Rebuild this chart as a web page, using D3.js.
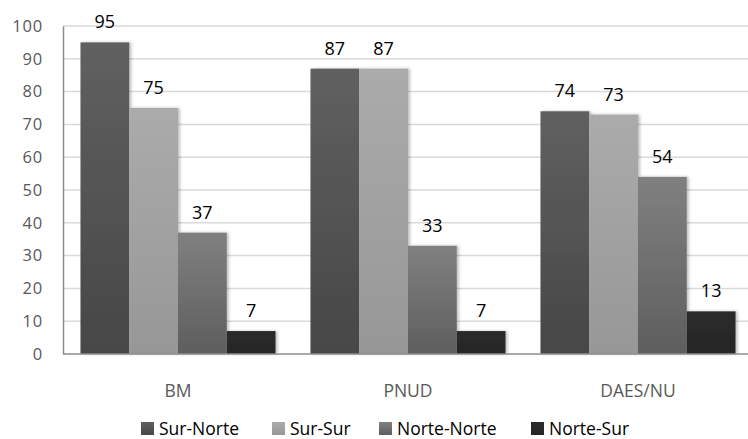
<!DOCTYPE html>
<html>
<head>
<meta charset="utf-8">
<script src="https://cdn.jsdelivr.net/npm/d3@7"></script>
<style>
  body { margin: 0; background: #fff; }
  svg text { font-family: 'Open Sans', sans-serif; }
</style>
</head>
<body>
<div id="chart"></div>
<script>
// Data
const categories = ['BM', 'PNUD', 'DAES/NU']
const seriesNames = ['Sur-Norte', 'Sur-Sur', 'Norte-Norte', 'Norte-Sur']
const surNorte = [95, 87, 74]
const surSur = [75, 87, 73]
const norteNorte = [37, 33, 54]
const norteSur = [7, 7, 13]
const yTicks = [0, 10, 20, 30, 40, 50, 60, 70, 80, 90, 100]

const seriesValues = [surNorte, surSur, norteNorte, norteSur]

// Colours (top, bottom of gradient)
const COLORS = [
  ['#606060', '#474747'],  // dark grey
  ['#ababab', '#979797'],  // light grey
  ['#808080', '#5e5e5e'],  // mid grey
  ['#2b2b2b', '#262626']   // near black
]

// Initialization
const width = 748
const height = 439
const margin = { left: 63, top: 26, bottom: 85 }
const plotRight = 753

const svg = d3.select('#chart').append('svg')
  .attr('width', width)
  .attr('height', height)

const defs = svg.append('defs')
COLORS.forEach((c, i) => {
  const g = defs.append('linearGradient')
    .attr('id', `grad${i}`)
    .attr('x1', 0).attr('y1', 0).attr('x2', 0).attr('y2', 1)
  g.append('stop').attr('offset', '0%').attr('stop-color', c[0])
  g.append('stop').attr('offset', '100%').attr('stop-color', c[1])
})
const shadow = defs.append('filter').attr('id', 'shadow')
  .attr('x', '-10%').attr('y', '-10%').attr('width', '130%').attr('height', '120%')
shadow.append('feDropShadow')
  .attr('dx', 2).attr('dy', 0).attr('stdDeviation', 1.5)
  .attr('flood-color', '#000').attr('flood-opacity', 0.25)

// Scales
const x0 = d3.scaleBand()
  .domain(categories)
  .range([margin.left, plotRight])
  .paddingInner(0.152)
  .paddingOuter(0.076)

const x1 = d3.scaleBand()
  .domain(seriesNames)
  .range([0, x0.bandwidth()])

const y = d3.scaleLinear()
  .domain([0, 100])
  .range([height - margin.bottom, margin.top])

// Gridlines
svg.append('g')
  .selectAll('line')
  .data(yTicks.slice(1))
  .enter()
  .append('line')
  .attr('x1', margin.left)
  .attr('x2', plotRight)
  .attr('y1', d => y(d))
  .attr('y2', d => y(d))
  .attr('stroke', '#d9d9d9')
  .attr('stroke-width', 1.5)

// Y axis
const yAxis = svg.append('g')
  .attr('transform', `translate(${margin.left},0)`)
  .call(d3.axisLeft(y).tickValues(yTicks).tickSize(0).tickPadding(20))
yAxis.attr('font-size', null).attr('font-family', null)
yAxis.select('.domain').attr('stroke', '#8c8c8c').attr('stroke-width', 1.5)
yAxis.selectAll('text')
  .attr('fill', '#595959')
  .style('font-size', '16.5px')
  .style('letter-spacing', '0.8px')

// Bars
const groups = svg.append('g')
  .selectAll('g')
  .data(categories)
  .enter()
  .append('g')
  .attr('transform', d => `translate(${x0(d)},0)`)

groups.selectAll('rect')
  .data((c, ci) => seriesNames.map((s, si) => ({ s, si, v: seriesValues[si][ci] })))
  .enter()
  .append('rect')
  .attr('x', d => x1(d.s))
  .attr('y', d => y(d.v))
  .attr('width', x1.bandwidth())
  .attr('height', d => y(0) - y(d.v))
  .attr('fill', d => `url(#grad${d.si})`)
  .attr('filter', 'url(#shadow)')

// Value labels
groups.selectAll('text')
  .data((c, ci) => seriesNames.map((s, si) => ({ s, si, v: seriesValues[si][ci] })))
  .enter()
  .append('text')
  .attr('x', d => x1(d.s) + x1.bandwidth() / 2)
  .attr('y', d => y(d.v) - 14)
  .attr('text-anchor', 'middle')
  .attr('fill', '#000')
  .style('font-size', '18px')
  .text(d => d.v)

// X axis line
svg.append('line')
  .attr('x1', margin.left)
  .attr('x2', plotRight)
  .attr('y1', y(0))
  .attr('y2', y(0))
  .attr('stroke', '#8c8c8c')
  .attr('stroke-width', 1.5)

// Category labels
svg.append('g')
  .selectAll('text')
  .data(categories)
  .enter()
  .append('text')
  .attr('x', d => x0(d) + x0.bandwidth() / 2)
  .attr('y', y(0) + 43)
  .attr('text-anchor', 'middle')
  .attr('fill', '#595959')
  .style('font-size', '17.5px')
  .text(d => d)

// Legend
const legendX = [141, 272, 379, 531]
const legend = svg.append('g')
  .selectAll('g')
  .data(seriesNames)
  .enter()
  .append('g')
  .attr('transform', (_, i) => `translate(${legendX[i]},422)`)

legend.append('rect')
  .attr('width', 13)
  .attr('height', 13)
  .attr('fill', (_, i) => `url(#grad${i})`)

legend.append('text')
  .attr('x', 18)
  .attr('y', 12.5)
  .attr('fill', '#000')
  .style('font-size', '17.5px')
  .text(d => d)
</script>
</body>
</html>
